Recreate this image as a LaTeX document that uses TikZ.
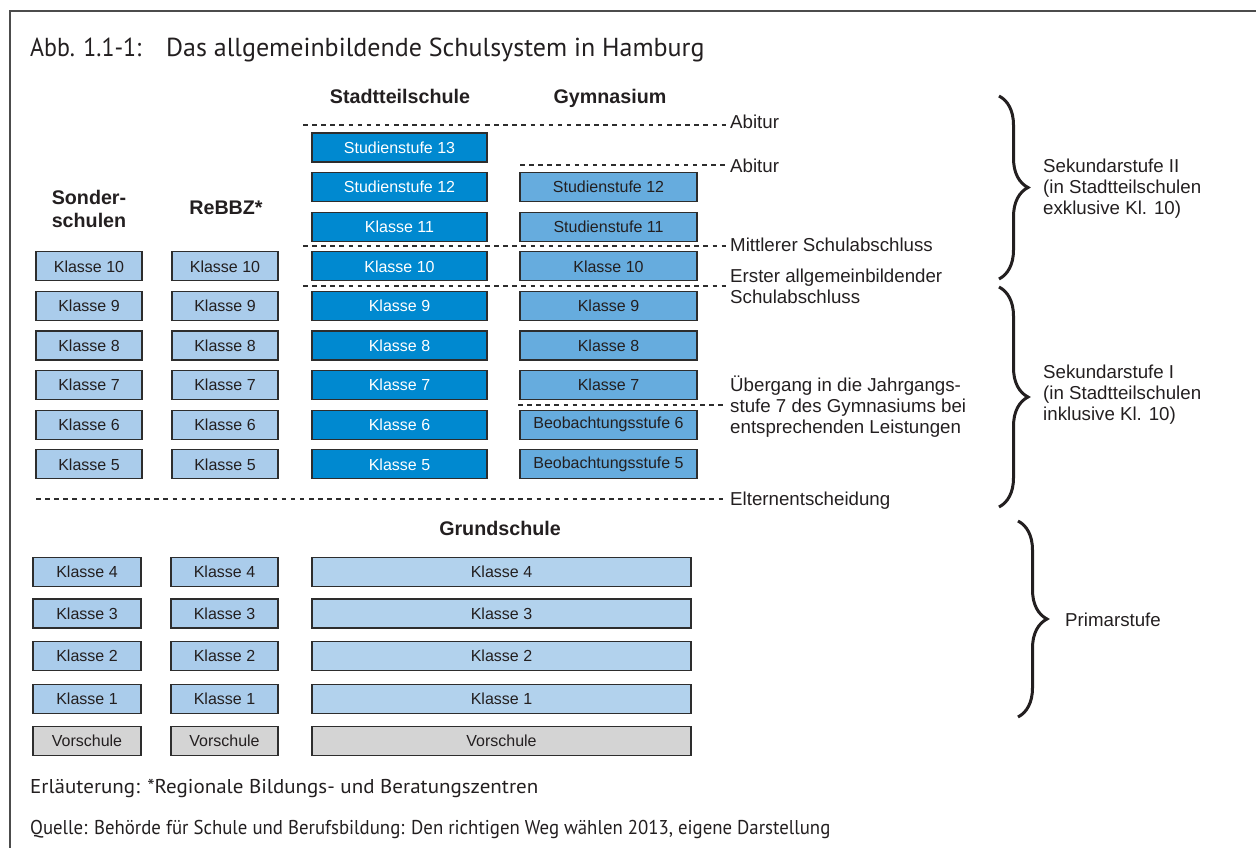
\documentclass[tikz,border=0pt]{standalone}
\usepackage{fontspec}
\setmainfont{Liberation Sans}
\newfontfamily\myr{PT Sans}
\usetikzlibrary{decorations.pathreplacing}
\definecolor{lightb}{RGB}{170,204,235}
\definecolor{grundb}{RGB}{178,210,237}
\definecolor{darkb}{RGB}{0,137,208}
\definecolor{medb}{RGB}{102,172,222}
\definecolor{grayv}{RGB}{212,212,212}
\definecolor{edge}{RGB}{45,45,45}
\definecolor{txt}{RGB}{35,31,32}
\begin{document}
\begin{tikzpicture}[x=1pt,y=-1pt,
  box/.style={draw=edge, line width=1.3pt, minimum height=29pt, inner sep=0pt, text=txt, font=\fontsize{16}{19}\selectfont},
  lb/.style={box, fill=lightb, minimum width=106pt},
  lbl/.style={box, fill=lightb, minimum width=107pt},
  db/.style={box, fill=darkb, text=white, minimum width=175pt},
  mb/.style={box, fill=medb, minimum width=177pt},
  gs/.style={box, fill=grundb, minimum width=379pt},
  vs/.style={box, fill=grayv},
  head/.style={font=\bfseries\fontsize{19.7}{23}\selectfont, text=txt, align=center, inner sep=0pt},
  rlab/.style={font=\fontsize{18.7}{21}\selectfont, text=txt, align=left, inner sep=0pt, anchor=west},
  foot/.style={font=\myr\fontsize{20}{23}\selectfont, text=txt, inner sep=0pt, anchor=base west},
  ttl/.style={font=\myr\fontsize{26}{29}\selectfont, text=txt, inner sep=0pt, anchor=base west},
  dline/.style={draw=edge, line width=1.6pt, dash pattern=on 4.5pt off 4.6pt},
  brc/.style={draw=txt, line width=3pt, decorate, decoration={brace, amplitude=29pt}},
]
\useasboundingbox (0,0) rectangle (1256,848);
% frame
\coordinate (fb) at (10,848);
\coordinate (fc) at (10,11);
\coordinate (fr) at (1256,11);
\draw[line width=1.6pt, draw=black!70] (fb) -- (fc) -- (fr);
% title
\node[ttl] (t1) at (30,57) {\scalebox{0.92}[1]{Abb. 1.1-1:}};
\node[ttl] (t2) at (166,57) {Das allgemeinbildende Schulsystem in Hamburg};
% headers
\node[head, anchor=base] (hst) at (400,104) {Stadtteilschule};
\node[head, anchor=base] (hgy) at (610,104) {Gymnasium};
\node[head] (hso) at (89,208.5) {Sonder-\\schulen};
\node[head] (hre) at (226,208) {ReBBZ*};
\node[head] (hgr) at (500,528) {Grundschule};
% upper columns
\foreach \k in {5,...,10} {
  \node[lb] (s\k) at (89,{147.5+(13-\k)*39.6}) {Klasse \k};
  \node[lb] (r\k) at (225,{147.5+(13-\k)*39.6}) {Klasse \k};
}
\node[db] (st13) at (399.5,147.5) {Studienstufe 13};
\node[db] (st12) at (399.5,187.1) {Studienstufe 12};
\foreach \k in {5,...,11} {
  \node[db] (st\k) at (399.5,{147.5+(13-\k)*39.6}) {Klasse \k};
}
\node[mb] (g12) at (608.5,187.1) {Studienstufe 12};
\node[mb] (g11) at (608.5,226.7) {Studienstufe 11};
\foreach \k in {7,...,10} {
  \node[mb] (g\k) at (608.5,{147.5+(13-\k)*39.6}) {Klasse \k};
}
\node[mb] (g6) at (608.5,424.7) {Beobachtungsstufe 6};
\node[mb] (g5) at (608.5,464.3) {Beobachtungsstufe 5};
% lower columns
\foreach \k/\yy in {4/572,3/613.5,2/656,1/699} {
  \node[lbl, minimum width=108pt] (ls\k) at (87,\yy) {Klasse \k};
  \node[lbl] (lr\k) at (224.5,\yy) {Klasse \k};
  \node[gs] (lg\k) at (501.5,\yy) {Klasse \k};
}
\node[vs, minimum width=108pt] (vs1) at (87,741) {Vorschule};
\node[vs, minimum width=107pt] (vs2) at (224.5,741) {Vorschule};
\node[vs, minimum width=379pt] (vs3) at (501.5,741) {Vorschule};
% dashed lines
\coordinate (d1a) at (303,125);  \coordinate (d1b) at (727,125);
\coordinate (d2a) at (520,165);  \coordinate (d2b) at (727,165);
\coordinate (d3a) at (303,246);  \coordinate (d3b) at (727,246);
\coordinate (d4a) at (303,286);  \coordinate (d4b) at (727,286);
\coordinate (d5a) at (518,405);  \coordinate (d5b) at (727,405);
\coordinate (d6a) at (36,499);   \coordinate (d6b) at (727,499);
\foreach \i in {1,...,6} { \draw[dline] (d\i a) -- (d\i b); }
% right labels
\node[rlab] (a1) at (730,122) {Abitur};
\node[rlab] (a2) at (730,166) {Abitur};
\node[rlab] (a3) at (730,245) {Mittlerer Schulabschluss};
\node[rlab] (a4) at (730,286.5) {Erster allgemeinbildender\\Schulabschluss};
\node[rlab] (a5) at (730,407) {Übergang in die Jahrgangs-\\stufe 7 des Gymnasiums bei\\entsprechenden Leistungen};
\node[rlab] (a6) at (730,501) {Elternentscheidung};
% braces
\coordinate (b1a) at (999,96);  \coordinate (b1b) at (999,279);
\coordinate (b2a) at (999,287); \coordinate (b2b) at (999,507);
\coordinate (b3a) at (1018,521); \coordinate (b3b) at (1018,717);
\draw[brc] (b1a) -- (b1b);
\draw[brc] (b2a) -- (b2b);
\draw[brc] (b3a) -- (b3b);
\node[rlab] (sk2) at (1043,189) {Sekundarstufe II\\(in Stadtteilschulen\\exklusive Kl. 10)};
\node[rlab] (sk1) at (1043,395) {Sekundarstufe I\\(in Stadtteilschulen\\inklusive Kl. 10)};
\node[rlab] (pr) at (1065,620) {Primarstufe};
% footer
\node[foot] (f1) at (30,793) {\scalebox{1.05}[1]{Erläuterung: *Regionale Bildungs- und Beratungszentren}};
\node[foot] (f2) at (30,834) {\scalebox{0.94}[1]{Quelle: Behörde für Schule und Berufsbildung: Den richtigen Weg wählen 2013, eigene Darstellung}};
\end{tikzpicture}
\end{document}
